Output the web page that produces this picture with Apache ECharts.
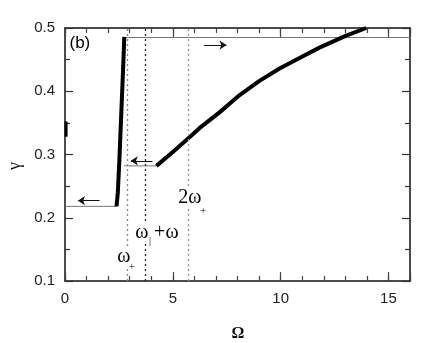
<!DOCTYPE html>
<html>
<head>
<meta charset="utf-8">
<script src="https://cdn.jsdelivr.net/npm/echarts@6/dist/echarts.min.js"></script>
<style>
  html, body { margin: 0; padding: 0; background: #fff; }
  #chart { width: 437px; height: 343px; }
</style>
</head>
<body>
<div id="chart"></div>
<script>
// steep left branch (jump up)
const leftBranch = [[2.39, 0.218], [2.45, 0.24], [2.52, 0.29], [2.58, 0.34], [2.64, 0.39], [2.70, 0.44], [2.75, 0.486]];
// small piece at the left edge
const edgeBranch = [[0.05, 0.328], [0.05, 0.352]];
// right branch
const rightBranch = [[4.24, 0.282], [5.0, 0.304], [5.63, 0.323], [6.25, 0.342], [7.18, 0.367], [8.1, 0.394],
  [9.0, 0.416], [9.95, 0.436], [10.9, 0.453], [11.8, 0.469], [13.04, 0.488], [13.97, 0.5]];
// thin horizontal jump lines
const lowLine = [[0, 0.218], [2.39, 0.218]];
const midLine = [[2.73, 0.282], [4.24, 0.282]];
const topLine = [[2.78, 0.485], [16, 0.485]];
// arrows: [fromX, toX, y]
const arrows = [[1.6, 0.6, 0.227], [4.06, 3.05, 0.290], [6.44, 7.49, 0.473]];
// vertical dotted frequency lines
const freqLines = [2.88, 3.73, 5.72];
const freqColors = ['#888', '#222', '#999'];
// text labels [x, y, text, size, family]
const textLabels = [
  [0.69, 0.476, '(b)', 17, 'sans'],
  [2.73, 0.138, 'ω', 20, 'serif'],
  [3.10, 0.122, '+', 11, 'serif'],
  [3.56, 0.177, 'ω', 20, 'serif'],
  [3.94, 0.162, '|', 10, 'serif'],
  [4.70, 0.177, '+ω', 20, 'serif'],
  [5.79, 0.231, '2ω', 20, 'serif'],
  [6.40, 0.210, '+', 11, 'serif']
];
const xLabels = [0, 5, 10, 15];

const chart = echarts.init(document.getElementById('chart'), null, { renderer: 'canvas' });

const gridBox = { left: 65, right: 27, top: 28, bottom: 62 };
const lineCol = '#111';

function xAx(gridIndex, position, interval, len, showLabel, showLine) {
  return {
    type: 'value', gridIndex, position, min: 0, max: 16, interval,
    axisLine: { show: showLine, onZero: false, lineStyle: { color: lineCol, width: 1.5 } },
    axisTick: { inside: true, length: len, lineStyle: { color: '#444', width: 1.2 } },
    axisLabel: {
      show: showLabel, margin: 10, fontSize: 15, color: '#222', fontFamily: 'Liberation Sans',
      formatter: v => (xLabels.indexOf(v) >= 0 ? String(v) : '')
    },
    splitLine: { show: false }
  };
}
function yAx(gridIndex, position, showLabel, show) {
  return {
    type: 'value', gridIndex, position, min: 0.1, max: 0.5, interval: 0.1, show,
    axisLine: { show: true, onZero: false, lineStyle: { color: lineCol, width: 1.5 } },
    axisTick: { inside: true, length: 8, lineStyle: { color: '#333', width: 1.2 } },
    minorTick: { show: true, splitNumber: 2, length: 5, lineStyle: { color: '#333', width: 1.2 } },
    axisLabel: {
      show: showLabel, margin: 10, fontSize: 15, color: '#222', fontFamily: 'Liberation Sans',
      formatter: v => v.toFixed(1)
    },
    splitLine: { show: false }
  };
}

const series = [
  {
    type: 'line', data: lowLine, showSymbol: false, lineStyle: { color: '#777', width: 1 }, z: 2,
    markLine: {
      silent: true, symbol: ['none', 'arrow'], symbolSize: 7, animation: false,
      label: { show: false },
      lineStyle: { color: '#111', width: 1, type: 'solid' },
      data: arrows.map(a => [{ coord: [a[0], a[2]] }, { coord: [a[1], a[2]] }])
    }
  },
  { type: 'line', data: midLine, showSymbol: false, lineStyle: { color: '#777', width: 1 }, z: 2 },
  {
    type: 'line', data: topLine, showSymbol: false, lineStyle: { color: '#777', width: 1 }, z: 2,
    markLine: {
      silent: true, symbol: ['none', 'none'], animation: false,
      label: { show: false },
      data: freqLines.map((x, i) => ({
        xAxis: x, lineStyle: { color: freqColors[i], width: 1.3, type: [2, 3] }
      }))
    }
  },
  { type: 'line', data: leftBranch, showSymbol: false, lineStyle: { color: '#000', width: 4 }, z: 4 },
  { type: 'line', data: edgeBranch, showSymbol: false, lineStyle: { color: '#000', width: 3 }, z: 4 },
  { type: 'line', data: rightBranch, showSymbol: false, lineStyle: { color: '#000', width: 4 }, z: 4 },
  {
    type: 'scatter', symbolSize: 0, z: 10, itemStyle: { color: '#000', opacity: 1 },
    data: textLabels.map(t => ({
      value: [t[0], t[1]],
      label: {
        show: true, position: 'inside', formatter: t[2],
        fontSize: t[3], color: '#000', opacity: 1,
        textBorderWidth: 0, textBorderColor: 'transparent',
        fontFamily: t[4] === 'sans' ? 'Liberation Sans' : 'Liberation Serif',
        backgroundColor: t[4] === 'serif' ? '#fff' : 'transparent',
        padding: [0, 0]
      }
    }))
  }
];

const option = {
  animation: false,
  backgroundColor: '#fff',
  grid: [Object.assign({}, gridBox), Object.assign({}, gridBox)],
  xAxis: [
    xAx(0, 'bottom', 1, 5, true, true),
    xAx(0, 'top', 1, 5, false, true),
    xAx(1, 'bottom', 5, 9, false, false),
    xAx(1, 'top', 5, 9, false, false)
  ],
  yAxis: [
    yAx(0, 'left', true, true),
    yAx(0, 'right', false, true),
    yAx(1, 'left', false, false),
    yAx(1, 'right', false, false)
  ],
  series: series,
  graphic: [
    {
      type: 'text', x: 15, y: 166, rotation: Math.PI / 2,
      style: {
        text: 'γ', fontSize: 18, fontFamily: 'Liberation Serif', fill: '#111',
        align: 'center', verticalAlign: 'middle'
      }
    },
    {
      type: 'text', x: 238, y: 334,
      style: {
        text: 'Ω', fontSize: 16, fontWeight: 'bold', fontFamily: 'Liberation Serif', fill: '#111',
        align: 'center', verticalAlign: 'middle'
      }
    }
  ]
};

chart.setOption(option);
</script>
</body>
</html>
